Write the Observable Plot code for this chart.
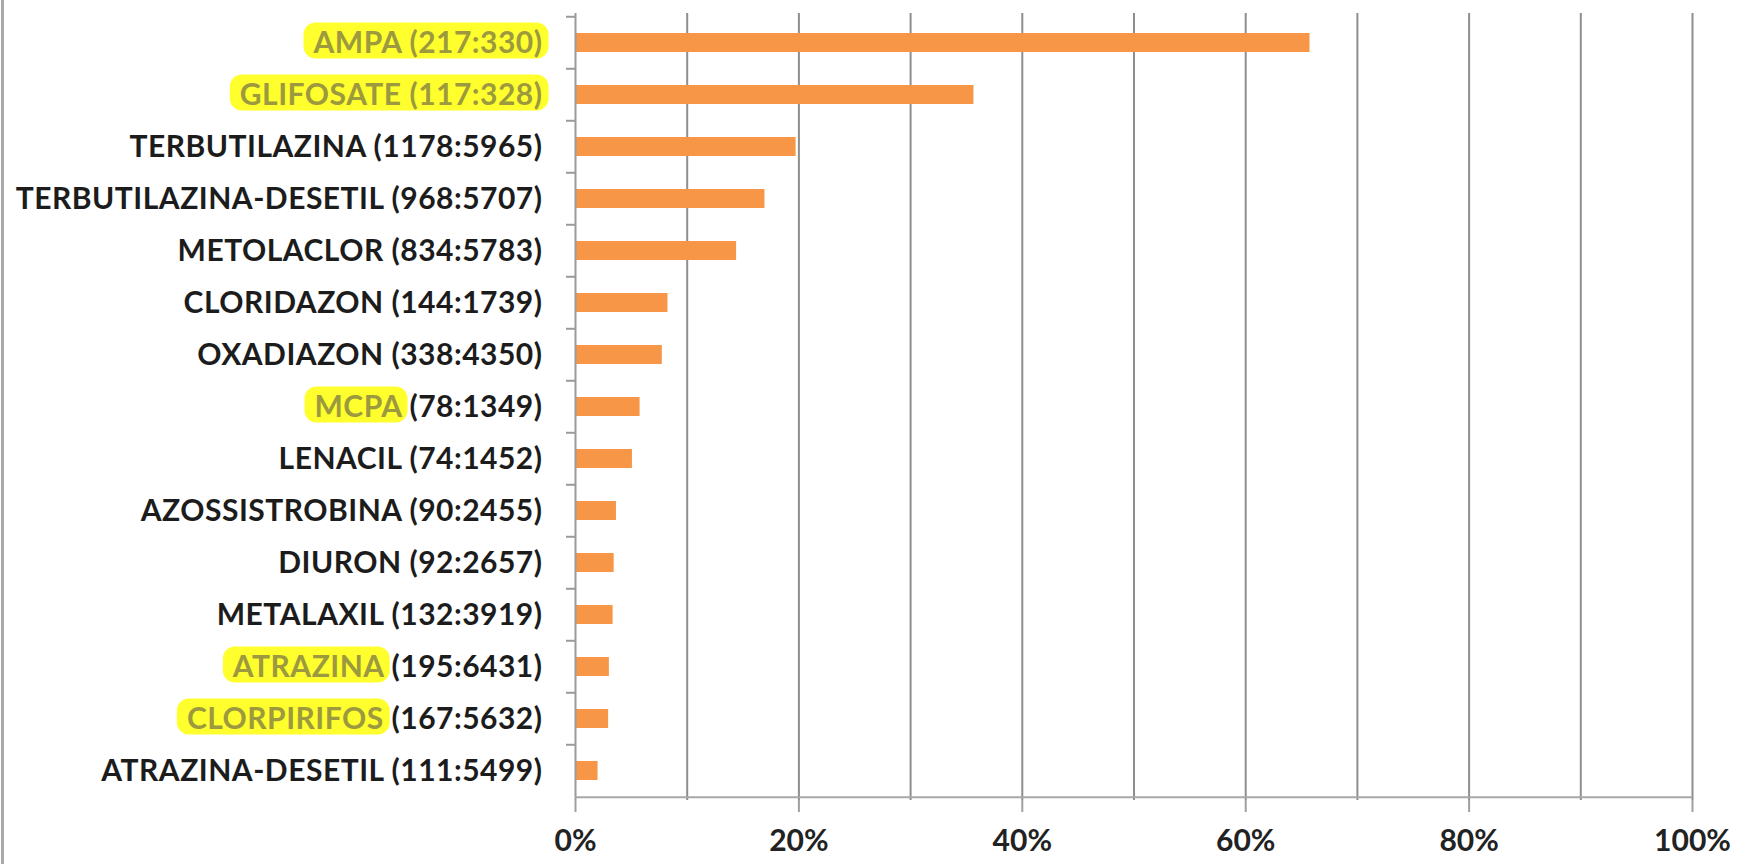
<!DOCTYPE html>
<html>
<head>
<meta charset="utf-8">
<script src="https://cdn.jsdelivr.net/npm/d3@7"></script>
<script src="https://cdn.jsdelivr.net/npm/@observablehq/plot@0.6"></script>
<style>
  html, body { margin: 0; padding: 0; background: #fff; }
  #wrap { position: relative; width: 1746px; height: 864px; overflow: hidden; }
  #border { position: absolute; left: 1px; top: 0; width: 3px; height: 864px; background: #a9a9a9; }
  g[aria-label="y-axis tick label"] text { letter-spacing: 0.5px; }
</style>
</head>
<body>
<div id="wrap"><div id="border"></div></div>
<script>
// Categories (top to bottom) with detections : samples, as printed in the labels
const names = ["AMPA", "GLIFOSATE", "TERBUTILAZINA", "TERBUTILAZINA-DESETIL", "METOLACLOR",
  "CLORIDAZON", "OXADIAZON", "MCPA", "LENACIL", "AZOSSISTROBINA", "DIURON", "METALAXIL",
  "ATRAZINA", "CLORPIRIFOS", "ATRAZINA-DESETIL"];
const detections = [217, 117, 1178, 968, 834, 144, 338, 78, 74, 90, 92, 132, 195, 167, 111];
const samples = [330, 328, 5965, 5707, 5783, 1739, 4350, 1349, 1452, 2455, 2657, 3919, 6431, 5632, 5499];
// Portion of each label that is marked with a yellow highlighter ("" = none)
const highlightParts = ["AMPA (217:330)", "GLIFOSATE (117:328)", "", "", "", "", "", "MCPA ", "", "", "", "",
  "ATRAZINA", "CLORPIRIFOS", ""];
const xTickValues = [0, 0.2, 0.4, 0.6, 0.8, 1.0];
const gridValues = [0.1, 0.2, 0.3, 0.4, 0.5, 0.6, 0.7, 0.8, 0.9, 1.0];

const labels = names.map((n, i) => `${n} (${detections[i]}:${samples[i]})`);
const data = names.map((n, i) => ({label: labels[i], pct: detections[i] / samples[i]}));

const W = 1746, H = 864, mT = 13, mB = 64, mL = 575, mR = 54;
const step = (H - mT - mB) / labels.length;

const chart = Plot.plot({
  width: W, height: H,
  marginTop: mT, marginBottom: mB, marginLeft: mL, marginRight: mR,
  style: {fontFamily: "Lato, 'Open Sans', sans-serif", background: "transparent", overflow: "visible"},
  x: {domain: [0, 1]},
  y: {domain: labels, paddingInner: 0.64, paddingOuter: 0.32},
  marks: [
    Plot.ruleX(gridValues, {stroke: "#8e8e8e", strokeWidth: 2}),
    Plot.barX(data, {x: "pct", y: "label", fill: "#F79646"}),
    Plot.ruleX([0], {stroke: "#9a9a9a", strokeWidth: 2}),
    Plot.ruleY([labels[labels.length - 1]], {x1: 0, x2: 1, dy: step / 2, stroke: "#a8a8a8", strokeWidth: 2}),
    Plot.ruleY(labels, {x1: 0, x2: 0, insetLeft: -9, dy: -step / 2, stroke: "#9a9a9a", strokeWidth: 2}),
    Plot.axisY({anchor: "left", tickSize: 0, tickPadding: 33, fontSize: 30, fontWeight: 700,
      fill: "#1c1c1c", label: null}),
    Plot.axisX({ticks: xTickValues, tickFormat: d => Math.round(d * 100) + "%", tickSize: 12,
      tickPadding: 17, fontSize: 30, fontWeight: 700, stroke: "#a0a0a0", strokeWidth: 2,
      fill: "#222", label: null})
  ]
});

document.getElementById("wrap").appendChild(chart);

// Yellow highlighter over selected label parts
const svgNS = "http://www.w3.org/2000/svg";
const yTexts = chart.querySelectorAll('g[aria-label="y-axis tick label"] text');
yTexts.forEach(t => {
  const full = t.textContent;
  const idx = labels.indexOf(full);
  if (idx < 0) return;
  const part = highlightParts[idx];
  if (!part) return;
  const rest = full.slice(part.length);
  t.textContent = "";
  const t1 = document.createElementNS(svgNS, "tspan");
  t1.textContent = part;
  t1.setAttribute("fill", "#9c993e");
  t.appendChild(t1);
  if (rest) {
    const t2 = document.createElementNS(svgNS, "tspan");
    t2.textContent = rest;
    t.appendChild(t2);
  }
  const a = t.getExtentOfChar(0);
  const b = t.getExtentOfChar(part.trimEnd().length - 1);
  const rect = document.createElementNS(svgNS, "rect");
  const x0 = a.x - 10, x1 = b.x + b.width + 6;
  const cy = a.y + a.height / 2;
  rect.setAttribute("x", x0);
  rect.setAttribute("y", cy - 18);
  rect.setAttribute("width", x1 - x0);
  rect.setAttribute("height", 36);
  rect.setAttribute("rx", 12);
  rect.setAttribute("fill", "#ffff2e");
  if (t.getAttribute("transform")) rect.setAttribute("transform", t.getAttribute("transform"));
  t.parentNode.insertBefore(rect, t);
});
</script>
</body>
</html>
